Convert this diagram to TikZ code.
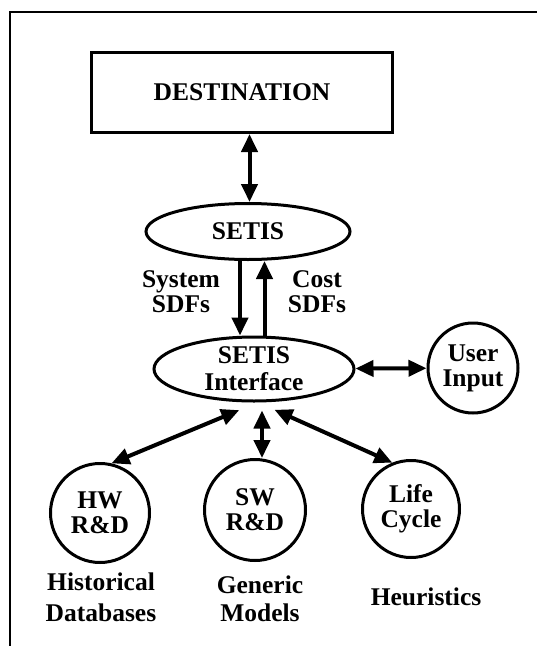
\documentclass[tikz,border=0pt]{standalone}
\usepackage{fontspec}
\setmainfont{Liberation Serif}
\usetikzlibrary{shapes.geometric,arrows.meta}
\begin{document}
\begin{tikzpicture}[x=1pt,y=-1pt,
  fnt/.style={font=\fontsize{25.5}{#1}\selectfont\bfseries},
  txt/.style={fnt=26, align=center},
  box/.style={draw, line width=3pt, inner sep=0pt, minimum width=301pt, minimum height=80pt, txt},
  ell/.style={draw, ellipse, line width=3pt, inner sep=0pt, txt},
  circ/.style={draw, circle, line width=3pt, inner sep=0pt, txt, fnt=25},
  arr/.style={line width=4pt, {Triangle[length=18pt,width=16pt]}-{Triangle[length=18pt,width=16pt]}},
  sarr/.style={line width=4pt, -{Triangle[length=18pt,width=16pt]}},
  lbl/.style={txt}]
\useasboundingbox (0,0) rectangle (537,646);
\draw[line width=2.5pt] (10,646) -- (10,12) -- (537,12);

\node[box] (dest) at (242,92.5) {DESTINATION};
\node[ell, minimum width=204pt, minimum height=56pt] (setis) at (248,231.5) {SETIS};
\node[ell, minimum width=200pt, minimum height=64pt, fnt=27] (iface) at (254,369) {SETIS\\Interface};
\node[circ, minimum size=90pt] (user) at (473,368) {User\\Input};
\node[circ, minimum size=99pt] (hw) at (100,513) {HW\\R\&D};
\node[circ, minimum size=101pt] (sw) at (255,510) {SW\\R\&D};
\node[circ, minimum size=97pt] (life) at (411,509) {Life\\Cycle};

\coordinate (dx) at (240,0);
\coordinate (ux) at (264.5,0);
\coordinate (swx) at (262,0);
\coordinate (dstx) at (249.5,0);

\node[lbl, fnt=25] (sys) at (181,292) {System\\SDFs};
\node[lbl, fnt=25] (cost) at (317,292) {Cost\\SDFs};
\node[lbl, fnt=31] (hist) at (101,597) {Historical\\Databases};
\node[lbl, fnt=28] (gen) at (260,599) {Generic\\Models};
\node[lbl] (heur) at (426,597) {Heuristics};

\draw[arr] (dest.south -| dstx) -- (setis.north -| dstx);
\draw[sarr] (setis.south -| dx) -- (iface.north -| dx);
\draw[sarr] (iface.north -| ux) -- (setis.south -| ux);
\draw[arr] (iface) -- (user);
\draw[arr] (hw.77) -- ([yshift=-8pt]iface.246);
\draw[arr] (sw.north -| swx) -- ([yshift=-8pt]iface.south -| swx);
\draw[arr] (life.112) -- ([yshift=-8pt]iface.302);
\end{tikzpicture}
\end{document}
